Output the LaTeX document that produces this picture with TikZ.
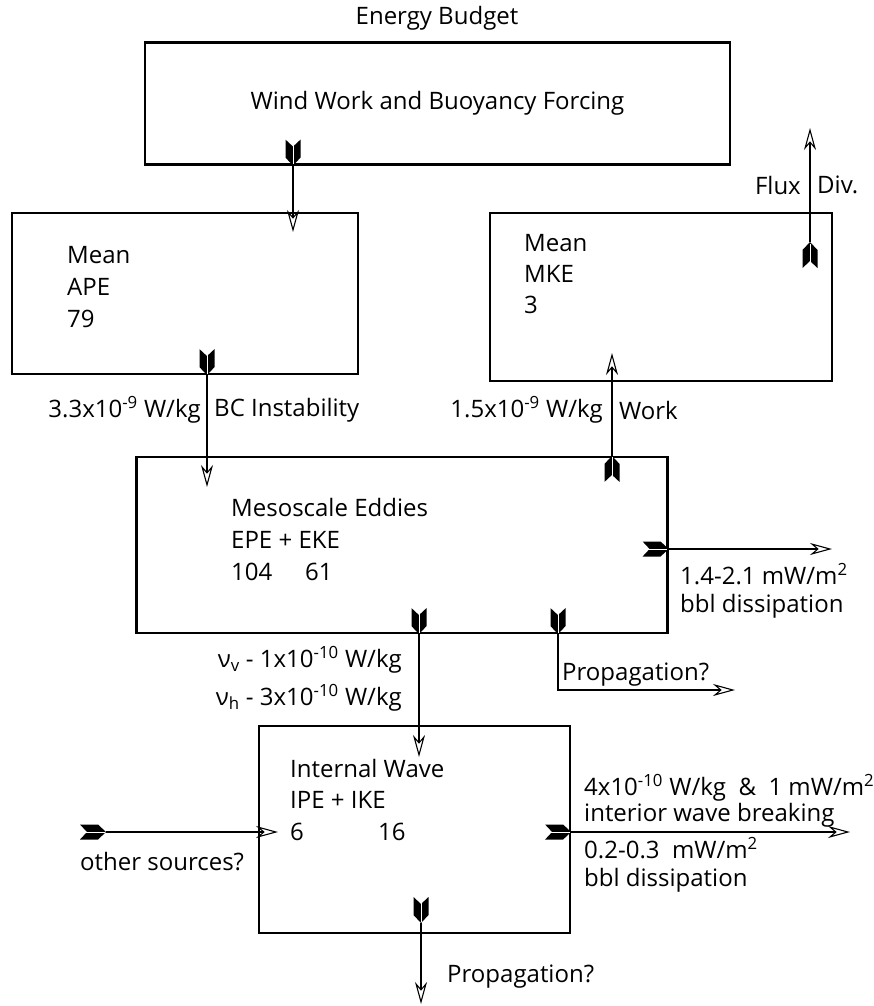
\documentclass[tikz,border=0pt]{standalone}
\usepackage{fontspec}
\setmainfont{Open Sans}
\usetikzlibrary{arrows.meta}
\begin{document}
\begin{tikzpicture}[x=1pt,y=-1pt,
  box/.style={draw, line width=2.2pt, inner sep=0pt},
  txt/.style={font=\fontsize{24}{28}\selectfont, inner sep=0pt, anchor=west},
  flow/.style={line width=1.8pt, -{Stealth[open, length=22pt, width=12pt, inset=7pt, line width=1.1pt]}},
  fletch/.pic={\fill[black] (0,0) -- (-8,7.5) -- (-26,7.5) -- (-19,0) -- (-26,-7.5) -- (-8,-7.5) -- cycle;
               \draw[white, line width=1pt] (-23,0) -- (-1.5,0);}
]
\useasboundingbox (0,0) rectangle (874,1006);

% title
\node[txt, anchor=center] (title) at (437,18) {Energy Budget};

% boxes
\node[box, minimum width=585pt, minimum height=122pt, font=\fontsize{24}{28}\selectfont] (wind) at (437.5,103.5) {Wind Work and Buoyancy Forcing};
\node[box, minimum width=346pt, minimum height=161pt] (ape) at (185,293.5) {};
\node[box, minimum width=342pt, minimum height=168pt] (mke) at (661,297) {};
\node[box, minimum width=531pt, minimum height=176pt] (meso) at (402,545) {};
\node[box, minimum width=311pt, minimum height=207pt] (iw) at (414.5,829.5) {};

% box texts
\node[txt] (apeA) at (67,255) {Mean};
\node[txt] (apeB) at (67,287) {APE};
\node[txt] (apeC) at (67,319) {79};
\node[txt] (mkeA) at (524,243) {Mean};
\node[txt] (mkeB) at (524,274) {MKE};
\node[txt] (mkeC) at (524,305) {3};
\node[txt] (mesoA) at (231,507) {Mesoscale Eddies};
\node[txt] (mesoB) at (231,540) {EPE + EKE};
\node[txt] (mesoC) at (231,572) {104};
\node[txt] (mesoD) at (305,572) {61};
\node[txt] (iwA) at (290,768) {Internal Wave};
\node[txt] (iwB) at (290,800) {IPE + IKE};
\node[txt] (iwC) at (290,832) {6};
\node[txt] (iwD) at (378,832) {16};

% coordinates
\coordinate (a1) at (293,232);
\coordinate (c1) at (207,487);
\coordinate (w1) at (612,353);
\coordinate (f0) at (810,242);
\coordinate (f1) at (810,128);
\coordinate (b1) at (832,549);
\coordinate (n1) at (419,757);
\coordinate (p0) at (558,690);
\coordinate (p1) at (735,690);
\coordinate (o0) at (106,832);
\coordinate (o1) at (278,832);
\coordinate (i1) at (850,832);
\coordinate (q0) at (421,923);
\coordinate (q1) at (421,1004);

% connectors
\draw[flow] (wind.south -| a1) -- (a1);
\pic[rotate=-90] at (wind.south -| a1) {fletch};
\draw[flow] (ape.south -| c1) -- (c1);
\pic[rotate=-90] at (ape.south -| c1) {fletch};
\draw[flow] (meso.north -| w1) -- (w1);
\pic[rotate=90] at (meso.north -| w1) {fletch};
\draw[flow] (f0) -- (f1);
\pic[rotate=90] at (f0) {fletch};
\draw[flow] (meso.east |- b1) -- (b1);
\pic at (meso.east |- b1) {fletch};
\draw[flow] (meso.south -| n1) -- (n1);
\pic[rotate=-90] at (meso.south -| n1) {fletch};
\draw[flow] (meso.south -| p0) -- (p0) -- (p1);
\pic[rotate=-90] at (meso.south -| p0) {fletch};
\draw[flow] (o0) -- (o1);
\pic at (o0) {fletch};
\draw[flow] (iw.east |- i1) -- (i1);
\pic at (iw.east |- i1) {fletch};
\draw[flow] (q0) -- (q1);
\pic[rotate=-90] at (q0) {fletch};

% labels
\node[txt, anchor=east] (l1) at (201,410) {3.3x10\textsuperscript{-9} W/kg};
\node[txt] (l2) at (214,410) {BC Instability};
\node[txt, anchor=east] (l3) at (603,410) {1.5x10\textsuperscript{-9} W/kg};
\node[txt] (l4) at (619,410) {Work};
\node[txt, anchor=east] (l5) at (801,185) {Flux};
\node[txt] (l6) at (817,185) {Div.};
\node[txt] (l7) at (680,574) {1.4-2.1 mW/m\textsuperscript{2}};
\node[txt] (l8) at (680,606) {bbl dissipation};
\node[txt, anchor=east] (l9) at (402,660) {ν\textsubscript{v} - 1x10\textsuperscript{-10} W/kg};
\node[txt, anchor=east] (l10) at (402,698) {ν\textsubscript{h} - 3x10\textsuperscript{-10} W/kg};
\node[txt] (l11) at (562,675) {Propagation?};
\node[txt] (l12) at (80,862) {other sources?};
\node[txt] (l13) at (584,788) {4x10\textsuperscript{-10} W/kg \ \& \ 1 mW/m\textsuperscript{2}};
\node[txt] (l14) at (584,815) {interior wave breaking};
\node[txt] (l15) at (584,848) {0.2-0.3 \ mW/m\textsuperscript{2}};
\node[txt] (l16) at (584,880) {bbl dissipation};
\node[txt] (l17) at (447,977) {Propagation?};
\end{tikzpicture}
\end{document}
